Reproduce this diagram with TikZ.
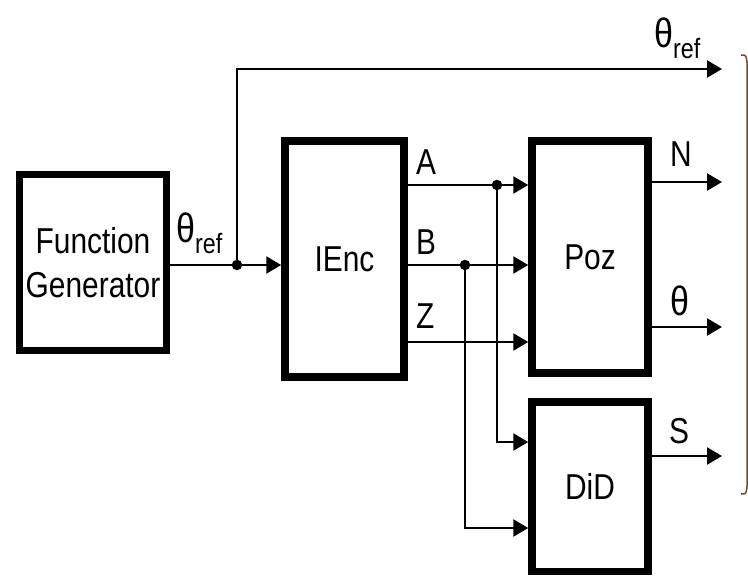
\documentclass[tikz,border=0pt]{standalone}
\usepackage{fontspec}
\setmainfont{Liberation Sans}[FakeStretch=0.83]
\usetikzlibrary{arrows.meta}
\definecolor{bracecol}{RGB}{110,75,45}
\newcommand\thetaref{{\fontsize{41}{41}\selectfont θ}\raisebox{-11pt}{\fontsize{28}{28}\selectfont ref}}
\begin{document}
\begin{tikzpicture}[x=1pt,y=-1pt,
  blk/.style={draw,line width=7.5pt,outer sep=3.75pt,inner sep=0pt,align=center,font=\fontsize{36}{44}\selectfont},
  wire/.style={line width=2.4pt},
  arr/.style={wire,-{Triangle[length=15pt,width=17pt]}},
  lbl/.style={inner sep=0pt,font=\fontsize{36}{36}\selectfont},
  jdot/.style={circle,fill,inner sep=0pt,minimum size=10.5pt}]
\useasboundingbox (0,0) rectangle (748,576);

% blocks
\node[blk,minimum width=147pt,minimum height=176pt] (FG) at (93,262.5) {Function\\Generator};
\node[blk,minimum width=119pt,minimum height=236pt] (IEnc) at (344.5,259) {IEnc};
\node[blk,minimum width=116pt,minimum height=232pt] (Poz) at (590,257) {Poz};
\node[blk,minimum width=116pt,minimum height=169.5pt] (DiD) at (590,486.75) {DiD};

% theta_ref path
\coordinate (jr) at (237,265);
\coordinate (tc) at (237,69);
\coordinate (tend) at (722,69);
\draw[wire] (FG.east |- jr) -- (jr);
\draw[arr] (jr) -- (IEnc.west |- jr);
\draw[arr] (jr) -- (tc) -- (tend);
\node[jdot] (d0) at (jr) {};

% A, B, Z
\coordinate (ja) at (497,185);
\coordinate (jb) at (465,265);
\coordinate (jz) at (465,342);
\coordinate (ad) at (497,442);
\coordinate (bd) at (465,528);
\draw[arr] (IEnc.east |- ja) -- (Poz.west |- ja);
\draw[arr] (IEnc.east |- jb) -- (Poz.west |- jb);
\draw[arr] (IEnc.east |- jz) -- (Poz.west |- jz);
\draw[arr] (ja) -- (ad) -- (DiD.west |- ad);
\draw[arr] (jb) -- (bd) -- (DiD.west |- bd);
\node[jdot] (da) at (ja) {};
\node[jdot] (db) at (jb) {};

% outputs
\coordinate (nend) at (722,182);
\coordinate (thend) at (722,327);
\coordinate (send) at (722,456);
\draw[arr] (Poz.east |- nend) -- (nend);
\draw[arr] (Poz.east |- thend) -- (thend);
\draw[arr] (DiD.east |- send) -- (send);

% labels
\node[inner sep=0pt,anchor=base west] (l1) at (176,242) {\thetaref};
\node[inner sep=0pt,anchor=base west] (l2) at (654,47) {\thetaref};
\node[lbl,anchor=base west] (la) at (416,174) {A};
\node[lbl,anchor=base west] (lb) at (416,254) {B};
\node[lbl,anchor=base west] (lz) at (416,328) {Z};
\node[lbl,anchor=base west] (ln) at (670,166) {N};
\node[inner sep=0pt,anchor=base west,font=\fontsize{41}{41}\selectfont] (lth) at (670,315) {θ};
\node[lbl,anchor=base west] (ls) at (669,443) {S};

% right brace
\draw[bracecol,line width=1.5pt] (741,55) .. controls (746,55) .. (747,62) -- (747,487) .. controls (746,494) .. (741,494);
\end{tikzpicture}
\end{document}
